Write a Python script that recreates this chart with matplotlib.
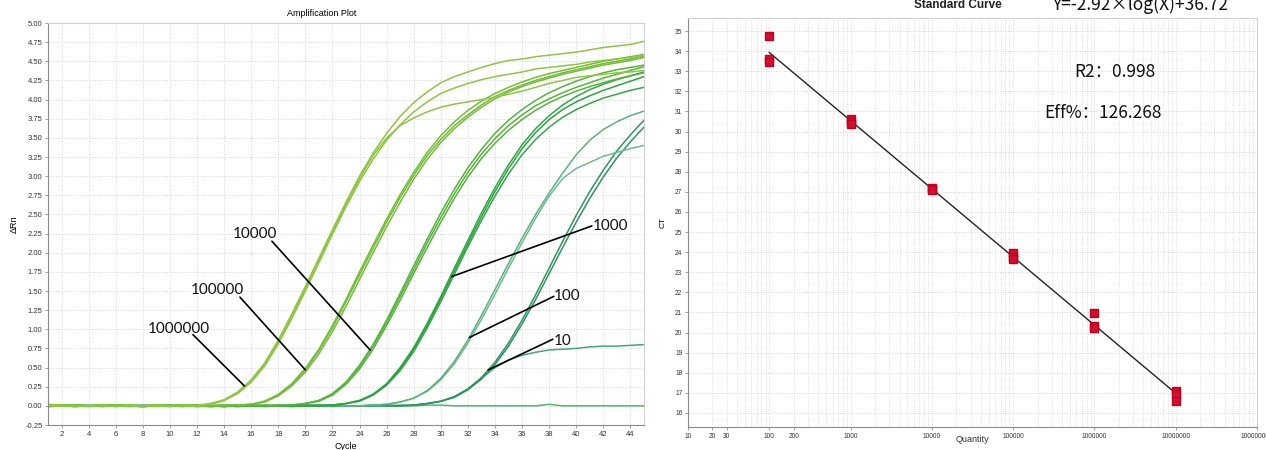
import numpy as np
import matplotlib
matplotlib.use("Agg")
import matplotlib.pyplot as plt
from matplotlib.ticker import FixedLocator, LogLocator, NullFormatter

plt.rcParams['font.family'] = ['Liberation Sans', 'DejaVu Sans']

# ---- amplification curves (delta Rn per cycle, cycles 1..45) ----
cycles = np.arange(1, 46)

a1 = [0.02, 0.01, 0.00, 0.00, 0.00, 0.01, 0.00, 0.00, -0.01, 0.00, 0.00, 0.01,
      0.03, 0.08, 0.18, 0.34, 0.56, 0.86, 1.20, 1.56, 1.93, 2.30, 2.66, 3.00, 3.30,
      3.56, 3.78, 3.96, 4.10, 4.22, 4.30, 4.36, 4.42, 4.47, 4.51, 4.53, 4.56, 4.58,
      4.60, 4.62, 4.65, 4.68, 4.70, 4.72, 4.76]
a2 = [-0.01, 0.00, 0.01, 0.00, 0.00, 0.00, 0.01, 0.00, 0.00, 0.00, 0.01, 0.00,
      0.02, 0.07, 0.16, 0.31, 0.52, 0.81, 1.14, 1.50, 1.87, 2.24, 2.60, 2.93, 3.22,
      3.47, 3.67, 3.84, 3.97, 4.08, 4.15, 4.21, 4.26, 4.30, 4.33, 4.36, 4.40, 4.42,
      4.44, 4.46, 4.49, 4.51, 4.53, 4.55, 4.58]
a3 = [0.00, 0.00, -0.01, 0.00, 0.01, 0.00, 0.00, 0.00, 0.01, 0.00, 0.00, 0.00,
      0.02, 0.07, 0.17, 0.32, 0.54, 0.83, 1.17, 1.53, 1.90, 2.27, 2.63, 2.97, 3.27,
      3.50, 3.66, 3.76, 3.84, 3.90, 3.94, 3.97, 4.00, 4.03, 4.07, 4.11, 4.16, 4.21,
      4.25, 4.29, 4.31, 4.33, 4.35, 4.36, 4.38]

b1 = [0.01, 0.00, 0.00, -0.01, 0.00, 0.00, 0.01, 0.00, 0.00, 0.00, -0.01, 0.00,
      0.00, 0.01, 0.01, 0.02, 0.06, 0.14, 0.28, 0.47, 0.72, 1.02, 1.36, 1.71, 2.06,
      2.40, 2.72, 3.01, 3.27, 3.48, 3.66, 3.80, 3.93, 4.04, 4.12, 4.19, 4.25, 4.30,
      4.35, 4.39, 4.43, 4.47, 4.50, 4.53, 4.57]
b2 = [0.00, 0.01, 0.00, 0.00, 0.00, -0.01, 0.00, 0.00, 0.01, 0.00, 0.00, 0.00,
      0.01, 0.00, 0.01, 0.02, 0.05, 0.13, 0.26, 0.44, 0.68, 0.97, 1.30, 1.65, 2.00,
      2.34, 2.66, 2.96, 3.22, 3.44, 3.62, 3.77, 3.90, 4.01, 4.10, 4.17, 4.23, 4.28,
      4.33, 4.37, 4.41, 4.45, 4.48, 4.51, 4.55]
b3 = [0.01, 0.01, 0.00, 0.00, 0.01, 0.00, 0.00, -0.01, 0.00, 0.00, 0.01, 0.00,
      0.00, 0.00, 0.01, 0.02, 0.06, 0.15, 0.29, 0.49, 0.74, 1.05, 1.39, 1.75, 2.10,
      2.44, 2.76, 3.05, 3.31, 3.53, 3.71, 3.86, 3.98, 4.08, 4.16, 4.23, 4.29, 4.34,
      4.38, 4.42, 4.46, 4.50, 4.53, 4.56, 4.59]

c1 = [0.00, 0.01, 0.00, 0.00, -0.01, 0.00, 0.00, 0.00, 0.01, 0.00, 0.00, 0.00,
      -0.01, 0.00, 0.00, 0.00, 0.01, 0.00, 0.01, 0.03, 0.07, 0.15, 0.30, 0.51, 0.78,
      1.09, 1.43, 1.78, 2.13, 2.46, 2.77, 3.05, 3.29, 3.49, 3.66, 3.80, 3.92, 4.01,
      4.09, 4.16, 4.22, 4.28, 4.33, 4.38, 4.43]
c2 = [0.01, 0.00, 0.00, 0.00, 0.00, 0.01, 0.00, -0.01, 0.00, 0.00, 0.01, 0.00,
      0.00, 0.00, 0.00, 0.01, 0.00, 0.00, 0.01, 0.03, 0.06, 0.14, 0.28, 0.48, 0.74,
      1.05, 1.38, 1.73, 2.07, 2.40, 2.71, 2.99, 3.23, 3.43, 3.60, 3.74, 3.86, 3.96,
      4.04, 4.11, 4.17, 4.22, 4.27, 4.31, 4.35]
c3 = [0.00, 0.00, 0.01, 0.00, 0.00, 0.00, -0.01, 0.00, 0.00, 0.01, 0.00, 0.00,
      0.00, 0.01, 0.00, 0.00, 0.00, 0.01, 0.01, 0.03, 0.07, 0.16, 0.31, 0.53, 0.80,
      1.12, 1.47, 1.83, 2.18, 2.52, 2.83, 3.11, 3.35, 3.56, 3.73, 3.87, 3.99, 4.09,
      4.17, 4.24, 4.30, 4.35, 4.39, 4.42, 4.45]

d1 = [0.01, 0.00, 0.00, 0.01, 0.00, 0.00, 0.00, -0.01, 0.00, 0.00, 0.00, 0.01,
      0.00, 0.00, 0.00, 0.00, -0.01, 0.00, 0.00, 0.01, 0.00, 0.01, 0.03, 0.07, 0.15,
      0.28, 0.48, 0.74, 1.05, 1.40, 1.76, 2.12, 2.47, 2.80, 3.10, 3.36, 3.57, 3.74,
      3.87, 3.97, 4.05, 4.12, 4.18, 4.24, 4.30]
d2 = [0.00, 0.00, 0.01, 0.00, 0.00, 0.01, 0.00, 0.00, 0.00, 0.00, 0.01, 0.00,
      0.00, -0.01, 0.00, 0.00, 0.00, 0.01, 0.00, 0.00, 0.00, 0.01, 0.03, 0.06, 0.14,
      0.27, 0.46, 0.71, 1.02, 1.36, 1.72, 2.08, 2.42, 2.74, 3.03, 3.28, 3.48, 3.64,
      3.77, 3.87, 3.95, 4.02, 4.07, 4.12, 4.16]
d3 = [-0.01, 0.00, 0.00, 0.00, 0.01, 0.00, 0.00, 0.00, 0.00, 0.01, 0.00, 0.00,
      0.00, 0.00, 0.01, 0.00, 0.00, 0.00, -0.01, 0.00, 0.01, 0.01, 0.03, 0.07, 0.15,
      0.29, 0.50, 0.76, 1.08, 1.43, 1.80, 2.16, 2.52, 2.85, 3.15, 3.41, 3.62, 3.79,
      3.93, 4.04, 4.13, 4.20, 4.26, 4.31, 4.36]

e1 = [0.00, 0.01, 0.00, 0.00, 0.00, 0.00, 0.01, 0.00, 0.00, -0.01, 0.00, 0.00,
      0.00, 0.01, 0.00, 0.00, 0.00, 0.00, 0.01, 0.00, 0.00, 0.00, 0.00, 0.00, 0.01,
      0.02, 0.05, 0.10, 0.20, 0.36, 0.58, 0.86, 1.18, 1.52, 1.86, 2.19, 2.50, 2.78,
      3.04, 3.28, 3.47, 3.61, 3.71, 3.79, 3.85]
e2 = [0.01, 0.00, 0.00, 0.00, 0.01, 0.00, 0.00, 0.00, 0.00, 0.00, 0.01, 0.00,
      -0.01, 0.00, 0.00, 0.00, 0.01, 0.00, 0.00, 0.00, 0.00, 0.01, 0.00, 0.00, 0.01,
      0.02, 0.05, 0.10, 0.19, 0.34, 0.55, 0.82, 1.13, 1.46, 1.80, 2.13, 2.45, 2.74,
      2.97, 3.10, 3.18, 3.26, 3.31, 3.36, 3.40]

f1 = [0.00, 0.00, 0.01, 0.00, 0.00, 0.00, 0.00, 0.01, 0.00, 0.00, 0.00, -0.01,
      0.00, 0.00, 0.00, 0.01, 0.00, 0.00, 0.00, 0.00, 0.01, 0.00, 0.00, 0.00, 0.00,
      0.01, 0.00, 0.01, 0.03, 0.06, 0.12, 0.22, 0.37, 0.57, 0.82, 1.12, 1.45, 1.80,
      2.15, 2.49, 2.80, 3.08, 3.33, 3.54, 3.73]
f2 = [0.01, 0.00, 0.00, 0.00, 0.00, 0.01, 0.00, 0.00, 0.00, 0.00, 0.00, 0.01,
      0.00, 0.00, -0.01, 0.00, 0.00, 0.00, 0.01, 0.00, 0.00, 0.00, 0.00, 0.00, 0.01,
      0.00, 0.00, 0.01, 0.03, 0.06, 0.11, 0.21, 0.35, 0.54, 0.78, 1.07, 1.39, 1.73,
      2.07, 2.40, 2.71, 2.99, 3.24, 3.45, 3.64]
f3 = [0.00, 0.01, 0.00, 0.00, 0.00, 0.00, 0.00, 0.00, 0.01, 0.00, 0.00, 0.00,
      0.00, -0.01, 0.00, 0.00, 0.00, 0.00, 0.00, 0.01, 0.00, 0.00, 0.00, 0.00, 0.00,
      0.00, 0.01, 0.01, 0.03, 0.06, 0.12, 0.22, 0.36, 0.50, 0.60, 0.66, 0.70, 0.73,
      0.74, 0.75, 0.77, 0.78, 0.78, 0.79, 0.80]

ntc = [0.01, 0.00, -0.01, 0.00, 0.00, 0.01, 0.00, 0.00, 0.00, 0.00, 0.00, 0.00,
       0.00, 0.00, 0.00, 0.00, 0.00, 0.00, 0.00, 0.00, 0.00, -0.01, 0.00, 0.00, 0.00,
       0.00, 0.00, 0.00, 0.01, 0.01, 0.00, 0.00, 0.00, 0.00, 0.00, 0.00, 0.00, 0.02,
       0.00, 0.00, 0.00, 0.00, 0.00, 0.00, 0.00]

curves = [ntc, f3, f2, f1, e2, e1, d2, d3, d1, c2, c3, c1, b2, b3, b1, a3, a2, a1]
curve_colors = ['#4db86c', '#43a873', '#2f9462', '#2f9462', '#6cbb8d', '#5cb27f',
                '#31a843', '#31a843', '#28a53e', '#55b43a', '#55b43a', '#55b43a',
                '#73bd38', '#73bd38', '#73bd38', '#8ec640', '#8ec640', '#8ec640']

# dilution labels and the curve each pointer touches
dil_labels = ['1000000', '100000', '10000', '1000', '100', '10']
dil_curves = [a1, b1, c1, d1, e1, f1]
dil_hit_cycle = [15.5, 20.0, 24.8, 30.8, 32.1, 33.5]

# ---- standard curve ----
quantity = [100, 100, 100, 1000, 1000, 1000, 1e4, 1e4, 1e4,
            1e5, 1e5, 1e5, 1e6, 1e6, 1e6, 1e7, 1e7, 1e7]
ct = [34.75, 33.62, 33.45, 30.63, 30.48, 30.38, 27.17, 27.13, 27.10,
      23.95, 23.75, 23.68, 20.95, 20.35, 20.22, 17.07, 16.93, 16.60]
qty_ticks = [10, 20, 30, 100, 200, 1000, 1e4, 1e5, 1e6, 1e7, 1e8]
qty_tick_labels = ['10', '20', '30', '100', '200', '1000', '10000', '100000',
                   '1000000', '10000000', '100000000']

fig = plt.figure(figsize=(12.66, 4.5), dpi=100)
W, H = 1266, 450


def px_axes(x0, y0, x1, y1):
    return fig.add_axes([x0 / W, 1 - y1 / H, (x1 - x0) / W, (y1 - y0) / H])


def style_box(ax):
    for s in ['top', 'right']:
        ax.spines[s].set_color('#d0d0d0')
    for s in ['left', 'bottom']:
        ax.spines[s].set_color('#8a8a8a')
    for s in ax.spines.values():
        s.set_linewidth(0.8)
    ax.tick_params(length=2, width=0.5, color='#777777', labelcolor='#333333', pad=2)


# left: amplification plot
ax1 = px_axes(48, 23, 644, 425)
for y, col in zip(curves, curve_colors):
    ax1.plot(cycles, y, color=col, lw=1.1, solid_joinstyle='round')
ax1.set_xlim(1, 45)
ax1.set_ylim(-0.25, 5.0)
ax1.set_xticks(np.arange(2, 45, 2))
ax1.set_yticks(np.arange(-0.25, 5.01, 0.25))
ax1.set_yticklabels([f'{v:.2f}' for v in np.arange(-0.25, 5.01, 0.25)])
ax1.tick_params(labelsize=5.5)
ax1.grid(True, ls=':', color='#d4d4d4', lw=0.7)
style_box(ax1)
ax1.set_xlabel('Cycle', fontsize=6.5, labelpad=3)
ax1.set_ylabel('ΔRn', fontsize=6.5, labelpad=5)
ax1.text(0.46, 1.012, 'Amplification Plot', transform=ax1.transAxes,
         ha='center', va='bottom', fontsize=6.5)

lab_pos = [(10.67, 1.01), (13.47, 1.51), (16.28, 2.24), (42.55, 2.35), (39.3, 1.43), (39.0, 0.85)]
lab_start = [(11.7, 0.93), (15.17, 1.42), (17.53, 2.15), (41.15, 2.35), (38.34, 1.43), (38.27, 0.87)]
for txt, y, c, pos, st in zip(dil_labels, dil_curves, dil_hit_cycle, lab_pos, lab_start):
    end = (c, np.interp(c, cycles, y))
    ax1.annotate('', xy=end, xytext=st,
                 arrowprops=dict(arrowstyle='-', color='black', lw=1.2,
                                 shrinkA=0, shrinkB=0))
    ax1.text(pos[0], pos[1], txt, ha='center', va='center', fontsize=11,
             family=['Lato', 'DejaVu Sans'], color='#111111')

# right: standard curve
ax2 = px_axes(688, 18, 1257, 427)
ax2.set_xscale('log')
ax2.set_xlim(10, 1e8)
ax2.set_ylim(15.3, 35.65)
logq = np.log10(quantity)
slope, icpt = np.polyfit(logq, ct, 1)
xfit = np.array([min(quantity), max(quantity)])
ax2.plot(xfit, slope * np.log10(xfit) + icpt, color='#222222', lw=1.0, zorder=2)
ax2.plot(quantity, ct, ls='none', marker='s', ms=6, color='#d0102c',
         mec='#c00020', zorder=3)
ax2.xaxis.set_major_locator(FixedLocator(qty_ticks))
ax2.set_xticklabels(qty_tick_labels)
ax2.xaxis.set_minor_locator(LogLocator(base=10, subs=np.arange(2, 10)))
ax2.xaxis.set_minor_formatter(NullFormatter())
ax2.set_yticks(np.arange(16, 36))
ax2.tick_params(labelsize=4.8)
ax2.tick_params(which='minor', length=0)
ax2.grid(True, which='both', axis='x', ls=':', color='#d4d4d4', lw=0.6)
ax2.grid(True, which='major', axis='y', ls=':', color='#d4d4d4', lw=0.7)
style_box(ax2)
ax2.set_ylabel('CT', fontsize=6, labelpad=6)
fig.text(972 / W, 1 - 440 / H, 'Quantity', ha='center', va='center',
         fontsize=6.5, color='#333333')

cjk = ['Noto Sans CJK SC', 'DejaVu Sans']
fig.text(958 / W, 1 - 8 / H, 'Standard Curve', ha='center', va='baseline',
         fontsize=8.5, fontweight='bold', color='#222222')
fig.text(1140 / W, 1 - 10 / H, 'Y=-2.92×log(X)+36.72', ha='center', va='baseline',
         fontsize=12.5, family=cjk, color='#111111')
fig.text(1115 / W, 1 - 72 / H, 'R2：0.998', ha='center', va='center',
         fontsize=12.5, family=cjk, color='#111111')
fig.text(1103 / W, 1 - 113 / H, 'Eff%：126.268', ha='center', va='center',
         fontsize=12.5, family=cjk, color='#111111')

fig.savefig('out.png', dpi=100, facecolor='white')
